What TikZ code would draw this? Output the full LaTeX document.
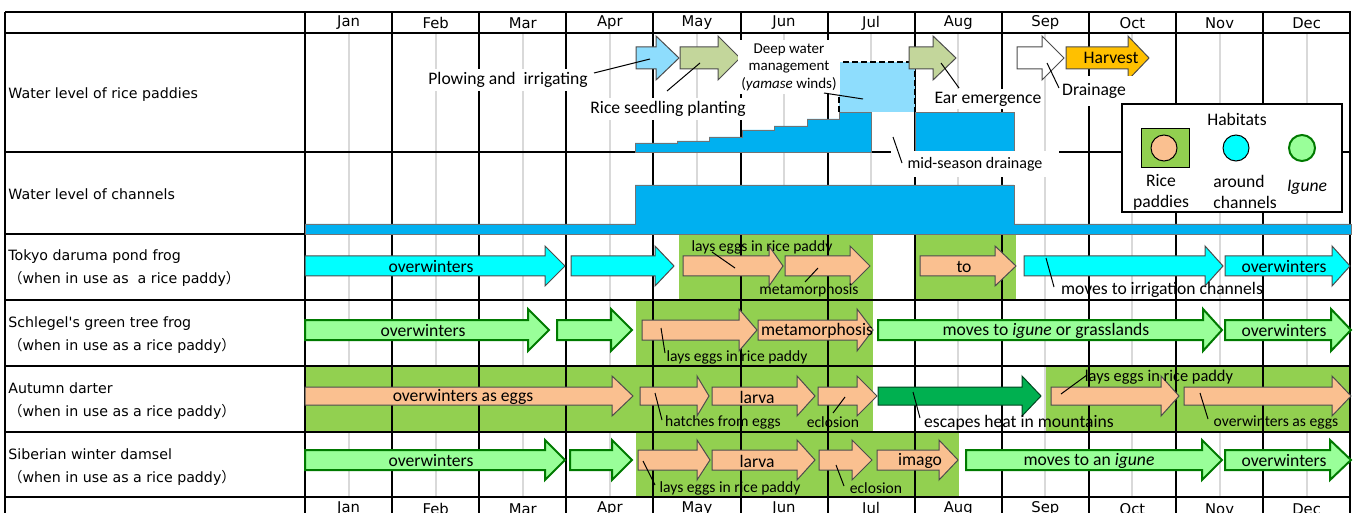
\documentclass[tikz,border=0pt]{standalone}
\usepackage{fontspec}
\setmainfont{Carlito}
\newfontfamily\tablefont{DejaVu Sans}
\newfontfamily\jpfont{Noto Sans CJK JP}

\definecolor{paddy}{HTML}{92D050}
\definecolor{water}{HTML}{00B0F0}
\definecolor{shallow}{HTML}{8EDDFD}
\definecolor{canal}{HTML}{00FFFF}
\definecolor{peach}{HTML}{FAC090}
\definecolor{igune}{HTML}{99FF99}
\definecolor{igunedark}{HTML}{007A00}
\definecolor{hill}{HTML}{00B050}
\definecolor{seedling}{HTML}{C3D69B}
\definecolor{harvest}{HTML}{FFC000}
\definecolor{guidegray}{HTML}{D9D9D9}

\newcommand{\mw}{87.1}
\newcommand{\arshaft}{10}
\newcommand{\arhead}{20}
% block arrow: [head length]{style}{x from}{x tip}{y}
\newcommand{\stage}[5][20]{%
  \draw[#2] (#3,#5-\arshaft) -- (#4-#1,#5-\arshaft) -- (#4-#1,#5-\arhead) -- (#4,#5)
    -- (#4-#1,#5+\arhead) -- (#4-#1,#5+\arshaft) -- (#3,#5+\arshaft) -- cycle;}

\tikzset{
  rule/.style={line width=1pt},
  guide/.style={draw=guidegray, line width=1pt},
  event/.style={draw=black!70, line width=0.5pt},
  paddyarrow/.style={draw=black!70, fill=peach, line width=0.5pt},
  canalarrow/.style={draw=black!70, fill=canal, line width=0.5pt},
  igunearrow/.style={draw=igunedark, fill=igune, line width=1pt},
  hillarrow/.style={draw=black!60!hill, fill=hill, line width=0.5pt},
  level/.style={fill=water, draw=black!55, line width=0.4pt},
  leader/.style={line width=0.5pt},
  note/.style={fill=white, inner sep=1.5pt},
  smalltext/.style={font=\fontsize{7.8}{9}\selectfont, inner sep=0pt},
  month/.style={font=\tablefont\fontsize{7.4}{9}\selectfont},
  rowlbl/.style={anchor=west, align=left, inner sep=0pt, font=\tablefont\fontsize{7.1}{11.5}\selectfont},
}

\begin{document}
\begin{tikzpicture}[x=0.5pt,y=-0.5pt,font=\fontsize{8.8}{10.5}\selectfont]
\useasboundingbox (0,0) rectangle (1354,513);

% half-month guides
\foreach \m in {0,...,11}
  \draw[guide] ({305+(\m+0.5)*\mw},33) -- ({305+(\m+0.5)*\mw},497);

% habitat: rice paddies
\fill[paddy] (679,235) rectangle (873,300);
\fill[paddy] (916,235) rectangle (1016,300);
\fill[paddy] (636,300) rectangle (873,366);
\fill[paddy] (305,366) rectangle (873,432);
\fill[paddy] (1046,366) rectangle (1351,432);
\fill[paddy] (636,432) rectangle (959,497);

% table
\foreach \m in {0,...,12}
  \draw[rule] ({305+\m*\mw},12) -- ({305+\m*\mw},513);
\draw[rule] (5,12) -- (5,513);
\foreach \y in {12,33,152,234,300,366,432,497}
  \draw[rule] (5,\y) -- (1351,\y);

% water levels
\filldraw[level] (635,152) |- (677,143) |- (709,141) |- (742,137) |- (774,130) |- (807,126) |- (839,119) |- (871,112) -- (871,152) -- cycle;
\filldraw[level] (915,152) rectangle (1014,112);
\fill[shallow] (839,62) rectangle (915,112);
\draw[line width=1pt, dash pattern=on 3pt off 1.5pt] (839,112) -- (839,62) -- (915,62) -- (915,112);
\filldraw[level] (305,234) -- (305,224) -- (635,224) -- (635,185) -- (1014,185) -- (1014,224) -- (1351,224) -- (1351,234) -- cycle;

% farming events
\renewcommand{\arshaft}{11}\renewcommand{\arhead}{22}
\stage[23]{event, fill=shallow}{636}{679}{58}
\stage[22]{event, fill=seedling}{680}{740}{58}
\stage[23]{event, fill=seedling}{909}{956}{58}
\stage[22]{event, fill=white}{1017}{1064}{58}
\stage[21]{event, fill=harvest}{1066}{1149}{58}
\node (harvest) at (1111,58) {Harvest};

% Tokyo daruma pond frog
\renewcommand{\arshaft}{10}\renewcommand{\arhead}{20}
\stage{canalarrow}{305}{565}{266}
\stage[19]{canalarrow}{571}{674}{266}
\stage[14]{paddyarrow}{683}{783}{266}
\stage{paddyarrow}{785}{870}{266}
\stage[21]{paddyarrow}{920}{1016}{266}
\stage[18]{canalarrow}{1024}{1223}{266}
\stage[18]{canalarrow}{1225}{1350}{266}
\node (tk1) at (431,267) {overwinters};
\node (tk5) at (964,267) {to};
\node (tk7) at (1284,267) {overwinters};

% Schlegel's green tree frog
\renewcommand{\arhead}{21}
\stage[21]{igunearrow}{305}{549}{330}
\stage[21]{igunearrow}{557}{632}{330}
\stage[18]{paddyarrow}{642}{757}{330}
\stage[16]{paddyarrow}{758}{873}{330}
\stage[19]{igunearrow}{878}{1222}{330}
\stage{igunearrow}{1225}{1351}{330}
\node (sg1) at (423,331) {overwinters};
\node[inner sep=0pt] (sg4) at (817,331) {metamorphosis};
\node (sg5) at (1046,331) {moves to \textit{igune} or grasslands};
\node (sg6) at (1284,331) {overwinters};

% Autumn darter
\renewcommand{\arshaft}{9}\renewcommand{\arhead}{20}
\stage[21]{paddyarrow}{305}{633}{396}
\stage[12]{paddyarrow}{640}{709}{396}
\stage[18]{paddyarrow}{712}{815}{396}
\stage{paddyarrow}{818}{877}{396}
\stage[19]{hillarrow}{878}{1041}{396}
\stage[18]{paddyarrow}{1051}{1179}{396}
\stage[19]{paddyarrow}{1184}{1351}{396}
\node (ad1) at (463,397) {overwinters as eggs};
\node (ad3) at (757,397) {larva};

% Siberian winter damsel
\renewcommand{\arshaft}{10}
\stage{igunearrow}{305}{565}{460}
\stage{igunearrow}{570}{632}{460}
\stage[13]{paddyarrow}{638}{710}{460}
\stage[18]{paddyarrow}{712}{815}{460}
\stage{paddyarrow}{819}{872}{460}
\stage[19]{paddyarrow}{877}{958}{460}
\stage{igunearrow}{966}{1222}{460}
\stage[21]{igunearrow}{1225}{1351}{460}
\node (sb1) at (431,461) {overwinters};
\node (sb4) at (757,461) {larva};
\node (sb6) at (920,461) {imago};
\node (sb7) at (1089,461) {moves to an \textit{igune}};
\node (sb8) at (1284,461) {overwinters};

% callouts
\node[note] (plowlbl) at (508,80) {Plowing and\ \ irrigating};
\node[note] (plantlbl) at (668,109) {Rice seedling planting};
\node[note, font=\fontsize{7.5}{8.75}\selectfont, align=center] (deeplbl) at (789,67) {Deep water\\management\\(\textit{yamase} winds)};
\node[note] (earlbl) at (988,99) {Ear emergence};
\node[note, minimum width=44pt, minimum height=15pt] (drainlbl) at (1094,91) {Drainage};
\node[note, font=\fontsize{8}{9}\selectfont, minimum width=84pt, minimum height=13pt] (midlbl) at (975,164) {mid-season drainage};
\node[smalltext] (tkeggs) at (762,247) {lays eggs in rice paddy};
\node[smalltext] (tkmeta) at (809,290) {metamorphosis};
\node[inner sep=0pt] (tkmove) at (1162,290) {moves to irrigation channels};
\node[smalltext] (sgeggs) at (737,357) {lays eggs in rice paddy};
\node[smalltext] (adhatch) at (723,422) {hatches from eggs};
\node[smalltext] (adeclo) at (833,422) {eclosion};
\node[inner sep=0pt] (adhill) at (1019,423) {escapes heat in mountains};
\node[smalltext, font=\fontsize{8.2}{9}\selectfont] (adeggs) at (1159,377) {lays eggs in rice paddy};
\node[smalltext] (adwinter) at (1276,422) {overwinters as eggs};
\node[smalltext] (sbeggs) at (730,488) {lays eggs in rice paddy};
\node[smalltext] (sbeclo) at (876,488) {eclosion};

\path (594,73) coordinate (plow-a) (650,59) coordinate (plow-b)
  (667,91) coordinate (plant-a) (700,63) coordinate (plant-b)
  (824,93) coordinate (deep-a) (863,99) coordinate (deep-b)
  (959,88) coordinate (ear-a) (941,63) coordinate (ear-b)
  (1059,88) coordinate (drain-a) (1047,63) coordinate (drain-b)
  (902,163) coordinate (mid-a) (893,137) coordinate (mid-b)
  (712,252) coordinate (tkeggs-a) (735,268) coordinate (tkeggs-b)
  (805,282) coordinate (tkmeta-a) (818,268) coordinate (tkmeta-b)
  (1054,287) coordinate (tkmove-a) (1046,258) coordinate (tkmove-b)
  (665,353) coordinate (sgeggs-a) (661,328) coordinate (sgeggs-b)
  (662,420) coordinate (adhatch-a) (655,393) coordinate (adhatch-b)
  (833,413) coordinate (adeclo-a) (845,397) coordinate (adeclo-b)
  (920,418) coordinate (adhill-a) (913,392) coordinate (adhill-b)
  (1087,375) coordinate (adeggs-a) (1061,394) coordinate (adeggs-b)
  (1208,419) coordinate (adwinter-a) (1200,393) coordinate (adwinter-b)
  (655,485) coordinate (sbeggs-a) (643,461) coordinate (sbeggs-b)
  (844,486) coordinate (sbeclo-a) (836,465) coordinate (sbeclo-b);
\foreach \c in {plow,plant,deep,ear,drain,mid,tkeggs,tkmeta,tkmove,sgeggs,adhatch,adeclo,adhill,adeggs,adwinter,sbeggs,sbeclo}
  \draw[leader] (\c-a) -- (\c-b);

% legend
\draw[line width=1pt, fill=white] (1122,104) rectangle (1342,212);
\node (habitats) at (1237,119) {Habitats};
\filldraw[fill=paddy, draw=black, line width=0.5pt] (1141,129) rectangle (1189,168);
\filldraw[fill=peach, draw=black, line width=0.5pt] (1164,148) circle (6.5pt);
\filldraw[fill=canal, draw=black, line width=0.5pt] (1236,148) circle (6.5pt);
\filldraw[fill=igune, draw=igunedark, line width=1pt] (1302,148) circle (6.5pt);
\node[align=center, inner sep=0pt] (ricekey) at (1161,192) {Rice\\paddies};
\node[align=left, anchor=west, inner sep=0pt] (canalkey) at (1213,192) {around\\channels};
\node (igunekey) at (1307,187) {\textit{Igune}};

% row heads
\node[rowlbl] (paddyrow) at (8,95) {Water level of rice paddies};
\node[rowlbl] (canalrow) at (8,194) {Water level of channels};
\node[rowlbl] (tokyorow) at (8,268) {Tokyo daruma pond frog\\{\jpfont （}when in use as\ \ a rice paddy{\jpfont ）}};
\node[rowlbl] (treefrogrow) at (8,335) {Schlegel's green tree frog\\{\jpfont （}when in use as a rice paddy{\jpfont ）}};
\node[rowlbl] (darterrow) at (8,401) {Autumn darter\\{\jpfont （}when in use as a rice paddy{\jpfont ）}};
\node[rowlbl] (damselrow) at (8,467) {Siberian winter damsel\\{\jpfont （}when in use as a rice paddy{\jpfont ）}};

% months
\foreach \mo [count=\i from 0] in {Jan,Feb,Mar,Apr,May,Jun,Jul,Aug,Sep,Oct,Nov,Dec} {
  \node[month] (top\mo) at ({305+(\i+0.5)*\mw},23) {\mo};
  \node[month] (bot\mo) at ({305+(\i+0.5)*\mw},509) {\mo};
}
\end{tikzpicture}
\end{document}
